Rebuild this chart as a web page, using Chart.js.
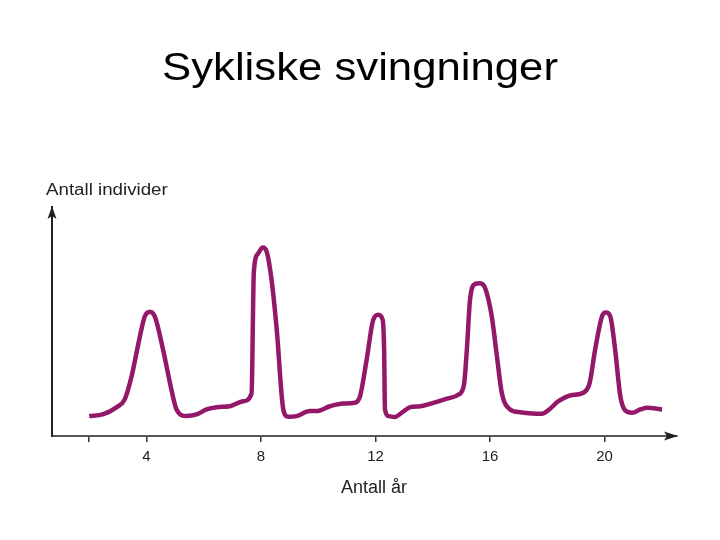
<!DOCTYPE html>
<html>
<head>
<meta charset="utf-8">
<script src="https://cdn.jsdelivr.net/npm/chart.js@4.4.1/dist/chart.umd.min.js"></script>
<style>
  html, body { margin: 0; padding: 0; background: #fff; }
  #wrap { width: 720px; height: 540px; }
</style>
</head>
<body>
<div id="wrap"><canvas id="c" width="720" height="540"></canvas></div>
<script>
// år (x) og antall individer (y, relativ skala 0-100) lest av bildet
const aar = [2.0, 2.47, 2.95, 3.24, 3.48, 3.77, 3.94, 4.12, 4.29, 4.58, 4.87, 5.05, 5.40, 5.75, 6.10, 6.45, 6.91, 7.38, 7.67,
  7.75, 7.90, 8.06, 8.20, 8.37, 8.55, 8.78, 8.95, 9.24, 9.71, 9.94, 10.41, 10.87, 11.28, 11.46,
  11.69, 11.92, 12.10, 12.25, 12.30, 12.33, 12.45, 12.68, 12.92, 13.21, 13.56, 14.02, 14.49, 14.90, 15.09,
  15.19, 15.30, 15.48, 15.65, 15.83, 16.06, 16.24, 16.41, 16.70, 17.05, 17.81, 18.04, 18.39, 18.80, 19.29, 19.48,
  19.67, 19.91, 20.05, 20.20, 20.37, 20.55, 20.72, 20.96, 21.25, 21.48, 22.01];
const individer = [8.7, 9.4, 12.5, 16.0, 26.1, 43.5, 52.2, 54.3, 52.2, 37.7, 20.3, 11.6, 8.7, 9.4, 11.6, 12.6, 13.0, 15.2, 18.6,
  71.7, 79.7, 82.3, 80.4, 68.1, 46.4, 11.6, 8.4, 8.7, 10.9, 10.9, 13.0, 14.2, 14.5, 17.4,
  33.3, 50.7, 52.9, 50.7, 37.7, 11.6, 8.7, 8.3, 10.2, 12.6, 13.0, 14.5, 16.3, 18.1, 22.5,
  37.7, 59.4, 66.4, 66.7, 64.5, 52.2, 34.8, 18.9, 11.6, 10.4, 9.7, 11.3, 15.2, 17.7, 19.1, 23.2,
  37.7, 52.2, 53.9, 52.2, 37.7, 17.4, 11.2, 10.2, 11.6, 12.3, 11.6];
const tikkVerdier = [2, 4, 8, 12, 16, 20];
const tikkTekst = ['', '4', '8', '12', '16', '20'];

const tittel = 'Sykliske svingninger';
const xTittel = 'Antall år';
const yTittel = 'Antall individer';

const punkter = aar.map((x, i) => ({ x: x, y: individer[i] }));

// tittel, aksetitler og piler på aksene
const pilPlugin = {
  id: 'piler',
  afterDraw(chart) {
    const ctx = chart.ctx;
    const a = chart.chartArea;
    ctx.save();
    ctx.fillStyle = '#222';
    // pil på x-aksen
    ctx.beginPath();
    ctx.moveTo(a.right + 1, a.bottom);
    ctx.lineTo(a.right - 13, a.bottom - 4.5);
    ctx.lineTo(a.right - 10, a.bottom);
    ctx.lineTo(a.right - 13, a.bottom + 4.5);
    ctx.closePath();
    ctx.fill();
    // pil på y-aksen
    ctx.beginPath();
    ctx.moveTo(a.left, a.top - 1);
    ctx.lineTo(a.left - 4.5, a.top + 12);
    ctx.lineTo(a.left, a.top + 9);
    ctx.lineTo(a.left + 4.5, a.top + 12);
    ctx.closePath();
    ctx.fill();

    // hovedtittel (litt bred skrift som i originalen)
    ctx.save();
    ctx.fillStyle = '#000';
    ctx.font = '38px "Liberation Sans", Arial, sans-serif';
    ctx.textAlign = 'center';
    ctx.textBaseline = 'alphabetic';
    ctx.translate(360, 80);
    ctx.scale(1.15, 1);
    ctx.fillText(tittel, 0, 0);
    ctx.restore();

    // y-aksetittel
    ctx.save();
    ctx.font = '16px "Liberation Sans", Arial, sans-serif';
    ctx.textAlign = 'left';
    ctx.textBaseline = 'alphabetic';
    ctx.translate(46, 195);
    ctx.scale(1.17, 1);
    ctx.fillText(yTittel, 0, 0);
    ctx.restore();

    // x-aksetittel
    ctx.font = '18px "Liberation Sans", Arial, sans-serif';
    ctx.textAlign = 'center';
    ctx.textBaseline = 'alphabetic';
    ctx.fillText(xTittel, 374, 493);
    ctx.restore();
  }
};

new Chart(document.getElementById('c'), {
  type: 'line',
  data: {
    datasets: [{
      label: yTittel,
      data: punkter,
      borderColor: '#93186a',
      borderWidth: 4.5,
      pointRadius: 0,
      fill: false,
      cubicInterpolationMode: 'monotone'
    }]
  },
  options: {
    responsive: false,
    animation: false,
    layout: { padding: { left: 43, right: 43, top: 207, bottom: 68 } },
    scales: {
      x: {
        type: 'linear',
        min: 0.70,
        max: 22.53,
        afterBuildTicks: (scale) => { scale.ticks = tikkVerdier.map(v => ({ value: v })); },
        grid: { display: true, drawOnChartArea: false, drawTicks: true, tickLength: 6, color: '#333', lineWidth: 1.5 },
        border: { display: true, color: '#555', width: 2 },
        ticks: {
          padding: 6,
          color: '#222',
          font: { family: '"Liberation Sans", Arial, sans-serif', size: 15 },
          callback: (v) => tikkTekst[tikkVerdier.indexOf(v)]
        }
      },
      y: {
        min: 0,
        max: 100,
        grid: { display: false },
        border: { display: true, color: '#222', width: 2 },
        ticks: { display: false },
        afterFit: (scale) => { scale.width = 9; }
      }
    },
    plugins: {
      legend: { display: false },
      tooltip: { enabled: false },
      title: { display: false }
    }
  },
  plugins: [pilPlugin]
});
</script>
</body>
</html>
